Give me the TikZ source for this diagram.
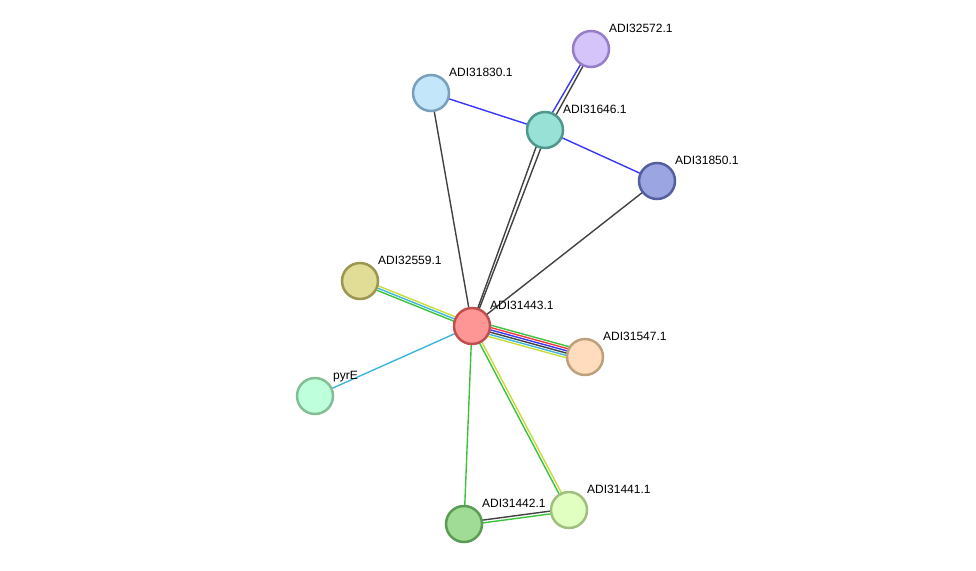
\documentclass[tikz,border=0pt]{standalone}
\usepackage{fontspec}
\setmainfont{Liberation Sans}
\usetikzlibrary{calc, backgrounds}

\definecolor{egray}{RGB}{65,65,65}
\definecolor{eblue}{RGB}{55,55,245}
\definecolor{egreen}{RGB}{60,195,60}
\definecolor{eyellow}{RGB}{200,220,60}
\definecolor{ecyan}{RGB}{60,180,220}
\definecolor{ered}{RGB}{240,60,60}

% one line per evidence channel, offset sideways (offset at start / at end)
\newcommand{\ppiedge}[3]{
  \foreach \c/\o/\p in {#3}
    \draw[\c, line width=1.4pt] ($(#1)!\o pt!90:(#2)$) -- ($(#2)!\p pt!-90:(#1)$);
}

\begin{document}
\begin{tikzpicture}[
  x=1pt, y=-1pt,
  prot/.style={circle, draw, line width=2.5pt, minimum size=36pt, inner sep=0pt},
  lbl/.style={anchor=base west, inner sep=0pt, font=\fontsize{12}{14}\selectfont}]

  \useasboundingbox (0,0) rectangle (976,570);

  \node[prot, fill={rgb,255:red,255;green,150;blue,150}, draw={rgb,255:red,192;green,80;blue,80}] (n31443) at (472,326) {};
  \node[prot, fill={rgb,255:red,212;green,196;blue,250}, draw={rgb,255:red,150;green,125;blue,200}] (n32572) at (591,49) {};
  \node[prot, fill={rgb,255:red,195;green,230;blue,250}, draw={rgb,255:red,120;green,160;blue,190}] (n31830) at (431,93) {};
  \node[prot, fill={rgb,255:red,152;green,225;blue,215}, draw={rgb,255:red,80;green,150;blue,140}] (n31646) at (545,130) {};
  \node[prot, fill={rgb,255:red,155;green,165;blue,225}, draw={rgb,255:red,85;green,95;blue,160}] (n31850) at (657,181) {};
  \node[prot, fill={rgb,255:red,225;green,220;blue,150}, draw={rgb,255:red,155;green,150;blue,80}] (n32559) at (360,281) {};
  \node[prot, fill={rgb,255:red,255;green,220;blue,190}, draw={rgb,255:red,190;green,160;blue,125}] (n31547) at (585,357) {};
  \node[prot, fill={rgb,255:red,190;green,255;blue,220}, draw={rgb,255:red,130;green,190;blue,150}] (npyrE) at (315,396) {};
  \node[prot, fill={rgb,255:red,160;green,220;blue,150}, draw={rgb,255:red,90;green,155;blue,85}] (n31442) at (464,524) {};
  \node[prot, fill={rgb,255:red,225;green,255;blue,192}, draw={rgb,255:red,160;green,190;blue,125}] (n31441) at (569,510) {};

  \node[lbl] (l31443) at ([shift={(18,-17)}]n31443.center) {ADI31443.1};
  \node[lbl] (l32572) at ([shift={(18,-17)}]n32572.center) {ADI32572.1};
  \node[lbl] (l31830) at ([shift={(18,-17)}]n31830.center) {ADI31830.1};
  \node[lbl] (l31646) at ([shift={(18,-17)}]n31646.center) {ADI31646.1};
  \node[lbl] (l31850) at ([shift={(18,-17)}]n31850.center) {ADI31850.1};
  \node[lbl] (l32559) at ([shift={(18,-17)}]n32559.center) {ADI32559.1};
  \node[lbl] (l31547) at ([shift={(18,-17)}]n31547.center) {ADI31547.1};
  \node[lbl] (lpyrE) at ([shift={(18,-17)}]npyrE.center) {pyrE};
  \node[lbl] (l31442) at ([shift={(18,-17)}]n31442.center) {ADI31442.1};
  \node[lbl] (l31441) at ([shift={(18,-17)}]n31441.center) {ADI31441.1};

  \begin{pgfonlayer}{background}
    \ppiedge{n31443}{n31830}{egray/0/0}
    \ppiedge{n31443}{n31646}{egray/0.6/2.6, egray/-0.6/-2.6}
    \ppiedge{n31443}{n31850}{egray/0/0}
    \ppiedge{n31443}{n32559}{eyellow/-2.3/-2.3, ecyan/0/0, egreen/2.3/2.3}
    \ppiedge{n31443}{n31547}{egreen/5.75/5.75, ered/3.45/3.45, eblue/1.15/1.15, egray/-1.15/-1.15, ecyan/-3.45/-3.45, eyellow/-5.75/-5.75}
    \ppiedge{n31443}{npyrE}{ecyan/0/0}
    \ppiedge{n31443}{n31442}{egreen/0/0}
    \ppiedge{n31443}{n31441}{egreen/-1.3/-1.3, eyellow/1.3/1.3}
    \ppiedge{n31646}{n32572}{eblue/2.4/1.2, egray/-2.4/-1.2}
    \ppiedge{n31646}{n31830}{eblue/0/0}
    \ppiedge{n31646}{n31850}{eblue/0/0}
    \ppiedge{n31442}{n31441}{egray/1.4/1.4, egreen/-1.4/-1.4}
  \end{pgfonlayer}
\end{tikzpicture}
\end{document}
